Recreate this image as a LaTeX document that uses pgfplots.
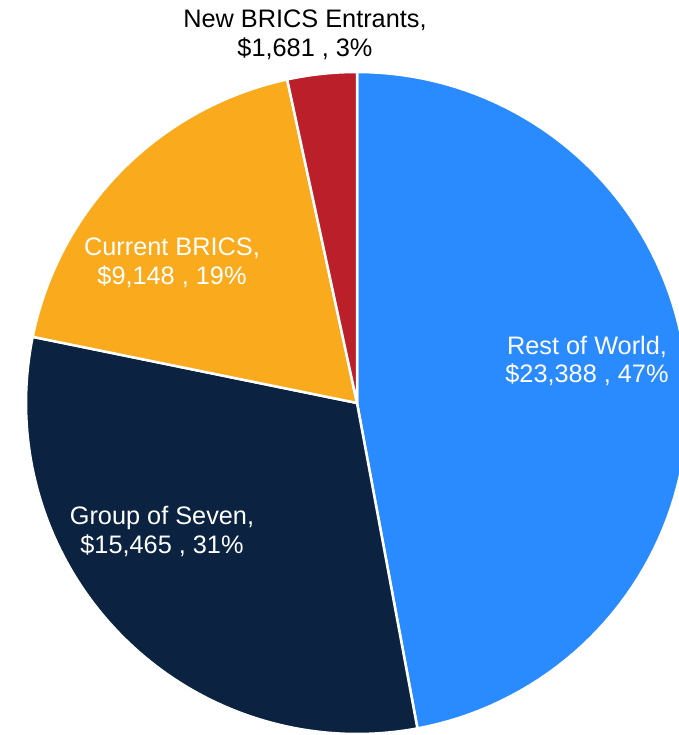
\documentclass[border=0pt]{standalone}
\usepackage{pgfplots}
\pgfplotsset{compat=1.18}
\usepackage{fontspec}
\setmainfont{Liberation Sans}
\definecolor{rowBlue}{RGB}{42,138,255}
\definecolor{gsevNavy}{RGB}{11,35,65}
\definecolor{bricsOrange}{RGB}{249,170,29}
\definecolor{newRed}{RGB}{186,31,42}

% values (USD bn)
\def\vRoW{23388}
\def\vGS{15465}
\def\vCB{9148}
\def\vNB{1681}
% slice boundaries, clockwise from 12 o'clock
\edef\tot{\fpeval{\vRoW+\vGS+\vCB+\vNB}}
\edef\aA{90}
\edef\aB{\fpeval{round(\aA-360*\vRoW/\tot,3)}}
\edef\aC{\fpeval{round(\aB-360*\vGS/\tot,3)}}
\edef\aD{\fpeval{round(\aC-360*\vCB/\tot,3)}}
\edef\aE{\fpeval{round(\aD-360*\vNB/\tot,3)}}

\begin{document}
\begin{tikzpicture}[
  lbl/.style={font=\fontsize{25.3bp}{30bp}\selectfont, anchor=base, inner sep=0pt},
]
\begin{axis}[
  scale only axis, width=679bp, height=735bp,
  xmin=-357, xmax=322, ymin=-332, ymax=403,
  hide axis,
  samples=90, variable=\t,
  every axis plot/.append style={draw=white, line width=2.5bp, line join=round},
]
  \addplot[fill=rowBlue, domain=\aB:\aA] ({331*cos(t)},{331*sin(t)}) -- (axis cs:0,0) -- cycle;
  \addplot[fill=gsevNavy, domain=\aC:\aB] ({331*cos(t)},{331*sin(t)}) -- (axis cs:0,0) -- cycle;
  \addplot[fill=bricsOrange, domain=\aD:\aC] ({331*cos(t)},{331*sin(t)}) -- (axis cs:0,0) -- cycle;
  \addplot[fill=newRed, domain=\aE:\aD] ({331*cos(t)},{331*sin(t)}) -- (axis cs:0,0) -- cycle;

  \node[lbl, text=black] at (axis cs:-52,375) {New BRICS Entrants,};
  \node[lbl, text=black] at (axis cs:-52,346) {\$1,681 , 3\%};
  \node[lbl, text=white] at (axis cs:-185,147) {Current BRICS,};
  \node[lbl, text=white] at (axis cs:-185,118) {\$9,148 , 19\%};
  \node[lbl, text=white] at (axis cs:230,48) {Rest of World,};
  \node[lbl, text=white] at (axis cs:230,20) {\$23,388 , 47\%};
  \node[lbl, text=white] at (axis cs:-195,-122) {Group of Seven,};
  \node[lbl, text=white] at (axis cs:-195,-151) {\$15,465 , 31\%};
\end{axis}
\pgfresetboundingbox
\path (current axis.south west) rectangle (current axis.north east);
\end{tikzpicture}
\end{document}
